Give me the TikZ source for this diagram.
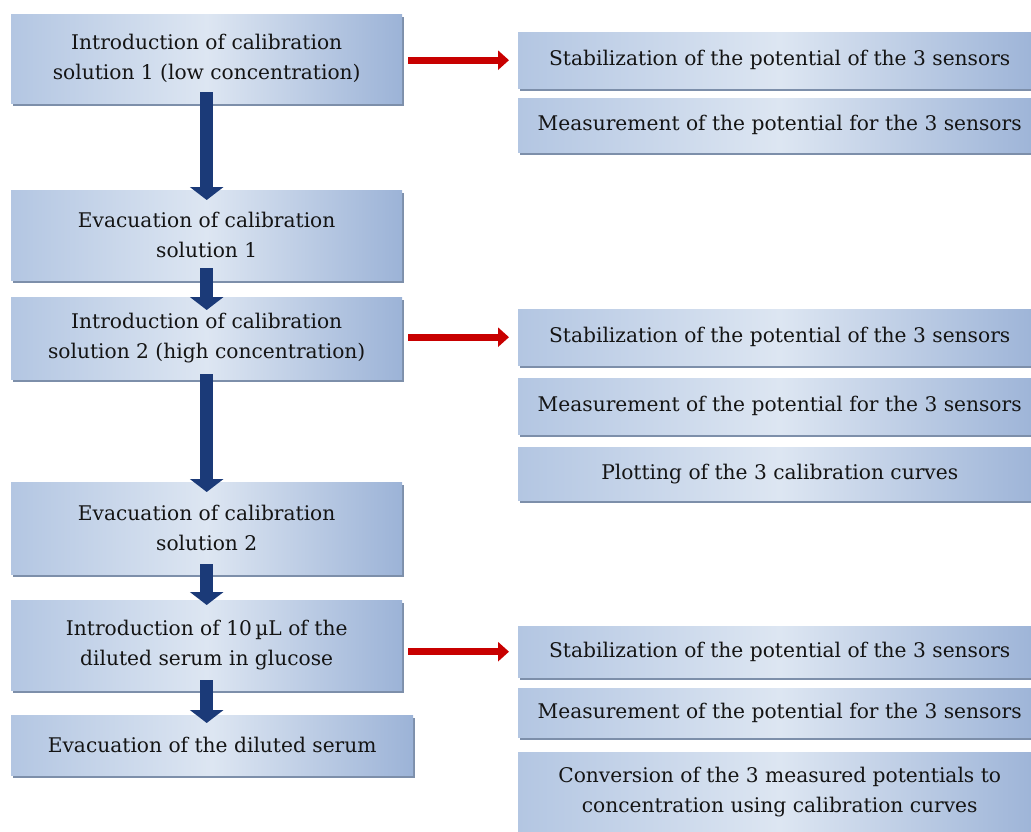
\documentclass[tikz,border=0pt]{standalone}
\usepackage{fontspec}
\setmainfont{DejaVu Serif}
\usetikzlibrary{arrows.meta,shadows,calc}
\definecolor{navy}{HTML}{1B3A78}
\definecolor{redar}{HTML}{C80000}
\definecolor{bxl}{HTML}{B3C6E2}
\definecolor{bxm}{HTML}{DDE6F2}
\definecolor{bxr}{HTML}{9CB3D7}
\definecolor{shd}{HTML}{7D8FAA}
\definecolor{txt}{HTML}{141414}
\begin{document}
\begin{tikzpicture}[x=1pt,y=-1pt,
  box/.style={rectangle, inner sep=0pt, anchor=north west,
    left color=bxl, right color=bxr, middle color=bxm,
    drop shadow={shadow xshift=2pt,shadow yshift=-3pt,fill=shd,opacity=1},
    font=\fontsize{20.2}{30}\selectfont, text=txt, align=center},
  lbox/.style={box, minimum width=391pt},
  rbox/.style={box, minimum width=523pt},
  navyarrow/.style={draw=navy, line width=13.5pt, -{Triangle[width=33pt,length=13pt]}},
  redarrow/.style={draw=redar, line width=7pt, -{Triangle[width=19pt,length=11pt]}}
]
\path[use as bounding box] (0,0) rectangle (1031,832);
\begin{scope}
\clip (0,0) rectangle (1031,832);
% left column
\node[lbox, minimum height=89pt] (b1) at (11,14) {Introduction of calibration\\solution 1 (low concentration)};
\node[lbox, minimum height=90pt] (b2) at (11,190) {Evacuation of calibration\\solution 1};
\node[lbox, minimum height=82pt] (b3) at (11,297) {Introduction of calibration\\solution 2 (high concentration)};
\node[lbox, minimum height=92pt] (b4) at (11,482) {Evacuation of calibration\\solution 2};
\node[lbox, minimum height=90pt] (b5) at (11,600) {Introduction of 10\,µL of the\\diluted serum in glucose};
\node[box, minimum width=402pt, minimum height=60pt] (b6) at (11,715) {Evacuation of the diluted serum};
% right column
\node[rbox, minimum height=56pt] (r1a) at (518,32) {Stabilization of the potential of the 3 sensors};
\node[rbox, minimum height=54pt] (r1b) at (518,98) {Measurement of the potential for the 3 sensors};
\node[rbox, minimum height=56pt] (r2a) at (518,309) {Stabilization of the potential of the 3 sensors};
\node[rbox, minimum height=56pt] (r2b) at (518,378) {Measurement of the potential for the 3 sensors};
\node[rbox, minimum height=53pt] (r2c) at (518,447) {Plotting of the 3 calibration curves};
\node[rbox, minimum height=51pt] (r3a) at (518,626) {Stabilization of the potential of the 3 sensors};
\node[rbox, minimum height=49pt] (r3b) at (518,688) {Measurement of the potential for the 3 sensors};
\node[rbox, minimum height=90pt] (r3c) at (518,752) {};
\node[font=\fontsize{20.2}{30}\selectfont, text=txt, align=center, anchor=north] (r3ct) at ($(r3c.north)+(0,12)$) {Conversion of the 3 measured potentials to\\concentration using calibration curves};
% navy arrows
\draw[navyarrow] ([yshift=11pt]b1.south) -- ([yshift=-10pt]b2.north);
\draw[navyarrow] ([yshift=12pt]b2.south) -- ([yshift=-13pt]b3.north);
\draw[navyarrow] ([yshift=5pt]b3.south) -- ([yshift=-10pt]b4.north);
\draw[navyarrow] ([yshift=10pt]b4.south) -- ([yshift=-5pt]b5.north);
\draw[navyarrow] ([yshift=10pt]b5.south) -- ([yshift=-8pt]b6.north -| b5.south);
% red arrows
\draw[redarrow] ([xshift=6pt]r1a.west -| b1.east) -- ([xshift=-9pt]r1a.west);
\draw[redarrow] ([xshift=6pt]r2a.west -| b3.east) -- ([xshift=-9pt]r2a.west);
\draw[redarrow] ([xshift=6pt]r3a.west -| b5.east) -- ([xshift=-9pt]r3a.west);
\end{scope}
\end{tikzpicture}
\end{document}
